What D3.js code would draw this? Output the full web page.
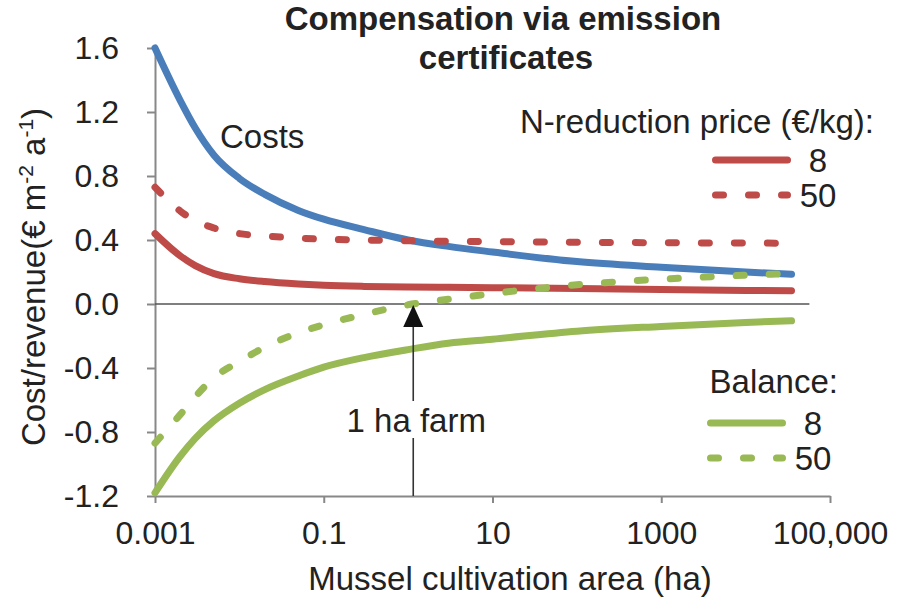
<!DOCTYPE html>
<html>
<head>
<meta charset="utf-8">
<script src="https://cdn.jsdelivr.net/npm/d3@7"></script>
<style>
  body { margin: 0; background: #fff; }
  svg text { font-family: "Liberation Sans", Arial, sans-serif; fill: #222; }
</style>
</head>
<body>
<svg id="chart" width="910" height="600"></svg>
<script>
// mussel cultivation area (ha) and the curves
var areaHa    = [0.001, 0.002, 0.003, 0.005, 0.01, 0.02, 0.05, 0.1, 0.3, 1, 3, 10, 100, 1000, 10000, 35000];
var costs     = [1.6, 1.27, 1.10, 0.93, 0.785, 0.685, 0.585, 0.53, 0.465, 0.40, 0.36, 0.325, 0.265, 0.23, 0.20, 0.186];
var revenue8  = [0.44, 0.30, 0.24, 0.19, 0.158, 0.14, 0.125, 0.117, 0.11, 0.106, 0.104, 0.102, 0.097, 0.09, 0.085, 0.083];
var revenue50 = [0.73, 0.58, 0.52, 0.475, 0.44, 0.425, 0.412, 0.405, 0.40, 0.395, 0.392, 0.39, 0.386, 0.383, 0.381, 0.38];
var balance8  = [-1.18, -0.95, -0.84, -0.73, -0.62, -0.535, -0.45, -0.395, -0.335, -0.285, -0.245, -0.22, -0.17, -0.14, -0.115, -0.105];
var balance50 = [-0.87, -0.69, -0.58, -0.46, -0.36, -0.27, -0.18, -0.13, -0.065, -0.005, 0.03, 0.065, 0.12, 0.155, 0.18, 0.19];

var xTicks = [0.001, 0.1, 10, 1000, 100000];
var xTickLabels = ["0.001", "0.1", "10", "1000", "100,000"];
var yTicks = [-1.2, -0.8, -0.4, 0.0, 0.4, 0.8, 1.2, 1.6];
var zeroLineX = [0.001, 57000];
var farmArea = 1.15;

var blue = "#4a7ebb", red = "#be4b48", green = "#98b954";

var series = [
  {name: "costs", values: costs, color: blue, dashed: false},
  {name: "rev50", values: revenue50, color: red, dashed: true},
  {name: "rev8", values: revenue8, color: red, dashed: false},
  {name: "bal50", values: balance50, color: green, dashed: true},
  {name: "bal8", values: balance8, color: green, dashed: false}
];

var svg = d3.select("#chart");
var x = d3.scaleLog().domain([0.001, 100000]).range([155, 830]);
var y = d3.scaleLinear().domain([-1.2, 1.6]).range([496, 48]);

// axes
var xAxis = d3.axisBottom(x).tickValues(xTicks).tickSize(7).tickSizeOuter(0).tickPadding(18)
  .tickFormat(function(d, i) { return xTickLabels[i]; });
var yAxis = d3.axisLeft(y).tickValues(yTicks).tickSize(8).tickSizeOuter(0).tickPadding(28)
  .tickFormat(function(d) { return d.toFixed(1); });

var gx = svg.append("g").attr("transform", "translate(0," + y(-1.2) + ")").call(xAxis);
var gy = svg.append("g").attr("transform", "translate(" + x(0.001) + ",0)").call(yAxis);
[gx, gy].forEach(function(g) {
  g.select(".domain").attr("stroke", "#888").attr("stroke-width", 2);
  g.selectAll(".tick line").attr("stroke", "#888").attr("stroke-width", 2);
  g.selectAll(".tick text").style("font-size", "32px").attr("fill", "#222");
});

// zero line
svg.append("line")
  .attr("x1", x(zeroLineX[0])).attr("x2", x(zeroLineX[1]))
  .attr("y1", y(0)).attr("y2", y(0))
  .attr("stroke", "#555").attr("stroke-width", 1.6);

// curves
var line = d3.line()
  .x(function(d, i) { return x(areaHa[i]); })
  .y(function(d) { return y(d); })
  .curve(d3.curveMonotoneX);

svg.append("g").selectAll("path")
  .data(series)
  .enter()
  .append("path")
  .attr("d", function(d) { return line(d.values); })
  .attr("fill", "none")
  .attr("stroke", function(d) { return d.color; })
  .attr("stroke-width", 7)
  .attr("stroke-linecap", "round")
  .attr("stroke-dasharray", function(d) { return d.dashed ? "8,25" : null; });

// 1 ha farm arrow
var ax = x(farmArea);
svg.append("line")
  .attr("x1", ax).attr("x2", ax)
  .attr("y1", y(-1.2)).attr("y2", y(0) + 20)
  .attr("stroke", "#333").attr("stroke-width", 1.6);
svg.append("path")
  .attr("d", "M" + ax + "," + (y(0) + 1) + " L" + (ax - 10) + "," + (y(0) + 23) + " L" + (ax + 10) + "," + (y(0) + 23) + " Z")
  .attr("fill", "#111");
svg.append("rect")
  .attr("x", ax - 75).attr("y", 401).attr("width", 150).attr("height", 37)
  .attr("fill", "#fff");
svg.append("text")
  .attr("x", ax + 3).attr("y", 432)
  .attr("text-anchor", "middle")
  .style("font-size", "33px")
  .text("1 ha farm");

// titles
svg.append("text").attr("x", 503).attr("y", 30).attr("text-anchor", "middle")
  .style("font-size", "33px").style("font-weight", "bold").attr("fill", "#111")
  .text("Compensation via emission");
svg.append("text").attr("x", 506).attr("y", 69).attr("text-anchor", "middle")
  .style("font-size", "33px").style("font-weight", "bold").attr("fill", "#111")
  .text("certificates");

svg.append("text").attr("x", 510).attr("y", 590).attr("text-anchor", "middle")
  .style("font-size", "33px")
  .text("Mussel cultivation area (ha)");

var yt = svg.append("text")
  .attr("transform", "translate(45,277) rotate(-90)")
  .attr("text-anchor", "middle")
  .style("font-size", "33px");
yt.append("tspan").text("Cost/revenue(€ m");
yt.append("tspan").attr("dy", -12).style("font-size", "21px").text("-2");
yt.append("tspan").attr("dy", 12).text(" a");
yt.append("tspan").attr("dy", -12).style("font-size", "21px").text("-1");
yt.append("tspan").attr("dy", 12).text(")");

svg.append("text").attr("x", 220).attr("y", 148)
  .style("font-size", "33px").text("Costs");

// legends
var priceLegend = [
  {label: "8", color: red, dashed: false},
  {label: "50", color: red, dashed: true}
];
var balanceLegend = [
  {label: "8", color: green, dashed: false},
  {label: "50", color: green, dashed: true}
];

function drawLegend(title, items, titleX, titleY, x0, x1, rowY) {
  svg.append("text").attr("x", titleX).attr("y", titleY).attr("text-anchor", "end")
    .style("font-size", "33px").text(title);
  var g = svg.append("g").selectAll("g")
    .data(items)
    .enter()
    .append("g")
    .attr("transform", function(d, i) { return "translate(0," + (rowY + i * 35) + ")"; });
  g.append("line")
    .attr("x1", x0 + 3.5).attr("x2", x1 - 3.5)
    .attr("stroke", function(d) { return d.color; })
    .attr("stroke-width", 7)
    .attr("stroke-linecap", "round")
    .attr("stroke-dasharray", function(d) { return d.dashed ? "8,25" : null; });
  g.append("text")
    .attr("x", x1 + 27).attr("y", 12)
    .attr("text-anchor", "middle")
    .style("font-size", "33px")
    .text(function(d) { return d.label; });
}

drawLegend("N-reduction price (€/kg):", priceLegend, 874, 133, 712, 791, 160);
drawLegend("Balance:", balanceLegend, 838, 393, 707, 786, 423);
</script>
</body>
</html>
